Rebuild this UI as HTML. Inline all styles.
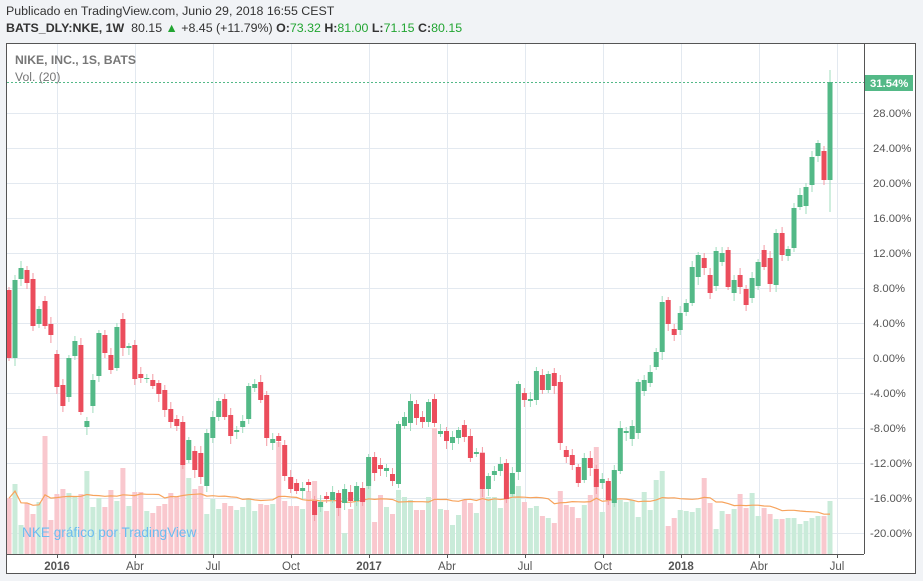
<!DOCTYPE html>
<html><head><meta charset="utf-8"><style>
html,body{margin:0;padding:0;background:#f1f3f6;width:923px;height:581px;overflow:hidden;font-family:"Liberation Sans",sans-serif}
.h1{position:absolute;left:6px;top:4px;font-size:12.4px;color:#333}
.h2{position:absolute;left:6px;top:21px;font-size:12.4px;color:#333}
.h2 b{font-weight:bold}
.g{color:#22a532}
</style></head><body>
<div class="h1">Publicado en TradingView.com, Junio 29, 2018 16:55 CEST</div>
<div class="h2"><b>BATS_DLY:NKE, 1W</b>&nbsp; 80.15 <span class="g">▲</span> +8.45 (+11.79%) <b>O:</b><span class="g">73.32</span> <b>H:</b><span class="g">81.00</span> <b>L:</b><span class="g">71.15</span> <b>C:</b><span class="g">80.15</span></div>
<svg id="c" width="923" height="581" style="position:absolute;left:0;top:0" xmlns="http://www.w3.org/2000/svg"></svg>
<script>
var C=[[290,358,0],[280,358,1],[268,279,1],[270,283,0],[279,326,0],[309,324,1],[301,326,0],[324,335,0],[354,387,0],[385,406,0],[358,397,1],[341,356,1],[345,412,0],[421,427,1],[380,406,1],[333,376,1],[335,353,0],[355,370,0],[327,368,1],[319,348,0],[346,348,1],[345,379,0],[374,378,0],[378,379,1],[380,386,0],[383,394,0],[390,410,0],[409,422,0],[419,426,0],[422,465,0],[440,460,1],[451,470,0],[453,477,0],[433,486,1],[417,438,1],[401,417,1],[399,417,0],[415,436,0],[430,432,1],[421,427,1],[386,419,1],[384,388,1],[382,400,0],[395,438,0],[439,443,1],[436,441,0],[445,476,0],[477,489,0],[483,491,0],[488,491,1],[482,485,0],[501,515,0],[502,507,1],[496,499,0],[492,500,1],[493,508,0],[489,503,1],[492,501,0],[486,501,1],[488,502,0],[457,486,1],[457,473,0],[465,469,0],[468,471,1],[474,481,0],[424,484,1],[417,426,1],[401,423,1],[404,418,0],[417,422,0],[402,422,1],[399,423,0],[431,434,1],[431,441,0],[437,443,1],[430,438,1],[425,437,0],[436,458,0],[452,454,1],[453,489,0],[476,489,1],[471,475,1],[464,471,1],[463,499,0],[473,494,1],[384,472,1],[393,400,0],[399,401,1],[371,400,1],[375,390,0],[374,390,1],[373,386,0],[382,443,0],[450,457,0],[455,465,0],[467,483,0],[458,480,1],[458,468,0],[469,487,0],[479,483,1],[481,500,0],[470,503,1],[428,471,1],[431,433,1],[426,439,1],[382,433,1],[380,391,1],[372,383,1],[352,367,1],[302,352,1],[300,324,0],[329,335,0],[313,330,1],[303,312,1],[267,303,1],[255,277,1],[258,268,0],[275,293,0],[251,286,1],[253,262,1],[250,287,0],[280,293,1],[275,287,0],[289,305,0],[278,298,1],[262,286,1],[250,267,0],[258,284,0],[233,285,1],[233,255,0],[249,256,1],[208,248,1],[195,207,1],[187,206,1],[157,185,1],[143,156,1],[151,180,0],[82,180,1]];
var V=[498,484,525,503,514,502,436,520,494,489,493,497,494,471,507,498,507,490,501,468,506,492,492,511,513,506,504,493,497,465,478,489,486,514,499,509,503,506,510,507,498,511,504,505,504,442,501,506,506,509,491,481,506,511,497,506,533,509,490,488,469,522,495,507,514,490,497,500,510,510,497,428,509,510,525,515,500,503,513,452,497,497,508,495,482,486,502,508,506,516,518,523,491,505,507,518,505,495,447,512,483,470,500,502,500,517,492,510,480,471,526,518,510,511,512,508,478,503,529,511,514,509,494,508,493,516,508,514,519,519,518,518,524,521,518,516,516,501];
var s='';
function R(x,y,w,h,f){return '<rect x="'+x+'" y="'+y+'" width="'+w+'" height="'+h+'" fill="'+f+'"/>';}
s+=R(7,43,909,531,'#fff');
var vx=[57,135,213,291,369,447,525,603,681,759,837],vl=['2016','Abr','Jul','Oct','2017','Abr','Jul','Oct','2018','Abr','Jul'];
for(var i=0;i<vx.length;i++)s+=R(vx[i],43,1,511,'#e3e9f0');
for(var k=-5;k<=7;k++){var y=Math.round(358-8.75*4*k);s+=R(7,y,857,1,'#e3e9f0');
 var lab=(k*4).toFixed(2)+'%';s+='<text x="'+(k<0?870:873)+'" y="'+(y+4)+'" font-size="11.3" fill="#555" font-family="Liberation Sans,sans-serif">'+lab+'</text>';}
var N=C.length,sp=821/137;
var pts=[];
for(var i=0;i<N;i++){var x=9+i*sp;s+=R((x-2.5).toFixed(1),V[i],5,554-V[i],C[i][2]?'#c9ebd9':'#f9c8ce');}
for(var i=0;i<N;i++){var a=0,n=0;for(var j=Math.max(0,i-19);j<=i;j++){a+=554-V[j];n++;}pts.push((9+i*sp).toFixed(1)+','+(556-a/n*1.03).toFixed(1));}
s+='<polyline points="'+pts.join(' ')+'" fill="none" stroke="#f7a35c" stroke-width="1.2"/>';
s+='<text x="22" y="537" font-size="13.6" fill="#6cbcf0" font-family="Liberation Sans,sans-serif">NKE gráfico por TradingView</text>';
for(var i=0;i<N;i++){var x=9+i*sp,c=C[i],col=c[2]?'#53b987':'#eb4d5c',wc=c[2]?'#9fdcbd':'#f39aa3';
 var ext=3+((i*7)%5);var ext2=3+((i*11)%6);if(i==137){ext=12;ext2=32;}
 s+=R((x-0.5).toFixed(1),c[0]-ext,1,c[1]-c[0]+ext+ext2,wc);
 s+=R((x-2.5).toFixed(1),c[0],5,Math.max(1,c[1]-c[0]),col);}
s+='<line x1="7" y1="82.5" x2="864" y2="82.5" stroke="#53b987" stroke-dasharray="2,2"/>';
s+=R(864,75,49,16,'#53b987')+'<text x="870" y="87" font-size="11.3" font-weight="bold" fill="#fff" font-family="Liberation Sans,sans-serif">31.54%</text>';
s+=R(864,43,1,511,'#555')+R(7,554,857,1,'#555');
s+='<rect x="6.5" y="43.5" width="909" height="530" fill="none" stroke="#555"/>';
for(var i=0;i<vx.length;i++){var b=/^20/.test(vl[i]);s+=R(vx[i],554,1,4,'#555')+'<text x="'+vx[i]+'" y="570" text-anchor="middle" font-size="11.5" '+(b?'font-weight="bold" ':'')+'fill="#555" font-family="Liberation Sans,sans-serif">'+vl[i]+'</text>';}
s+='<text x="15" y="64" font-size="12.2" font-weight="bold" fill="#777" font-family="Liberation Sans,sans-serif">NIKE, INC., 1S, BATS</text>';
s+='<text x="15" y="81" font-size="12.2" fill="#777" font-family="Liberation Sans,sans-serif">Vol. (20)</text>';
document.getElementById('c').innerHTML=s;
</script>
</body></html>
